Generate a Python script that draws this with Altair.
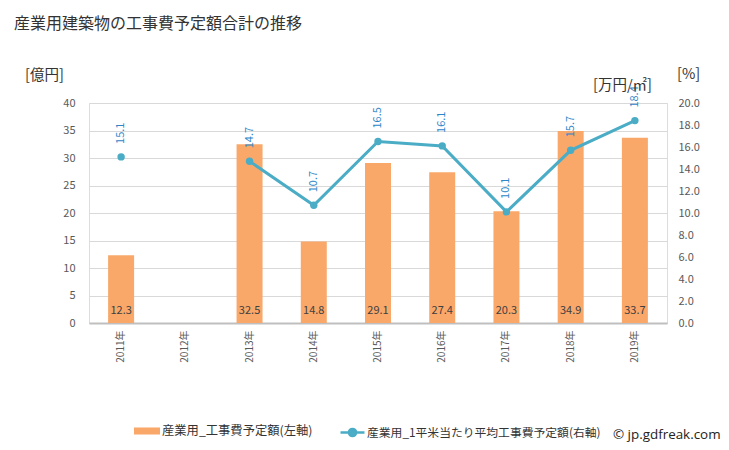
import altair as alt
import pandas as pd

# ---- data ----
years = ["2011年", "2012年", "2013年", "2014年", "2015年", "2016年", "2017年", "2018年", "2019年"]
bar_vals = [12.3, None, 32.5, 14.8, 29.1, 27.4, 20.3, 34.9, 33.7]
rate_vals = [15.1, None, 14.7, 10.7, 16.5, 16.1, 10.1, 15.7, 18.4]
left_ticks = [0, 5, 10, 15, 20, 25, 30, 35, 40]
right_ticks = [0, 2, 4, 6, 8, 10, 12, 14, 16, 18, 20]

bar_name = "産業用_工事費予定額(左軸)"
line_name = "産業用_1平米当たり平均工事費予定額(右軸)"
title_text = "産業用建築物の工事費予定額合計の推移"
left_unit = "[億円]"
right_unit = "[%]"
rate_unit = "[万円/㎡]"
credit = "© jp.gdfreak.com"

df = pd.DataFrame({"year": years, "bar": bar_vals, "rate": rate_vals,
                   "bname": bar_name, "lname": line_name})

FONT = "Noto Sans CJK JP"
ORANGE = "#f9a86a"
BLUE = "#4bacc6"
LABEL_BLUE = "#2e86c9"
GRAY = "#595959"

xaxis = alt.Axis(title=None, labelAngle=270, labelFontSize=10, labelColor=GRAY,
                 labelPadding=7, ticks=False, domainColor="#bfbfbf", domainWidth=2,
                 grid=False, labelFont=FONT)
xscale = alt.Scale(paddingInner=0, paddingOuter=0)
xenc = alt.X("year:N", sort=years, scale=xscale, axis=xaxis)

left_axis = alt.Axis(title=None, values=left_ticks, grid=True, gridColor="#d9d9d9",
                     domain=False, ticks=False, labelPadding=14, labelColor=GRAY,
                     labelFontSize=11, labelFont=FONT, labelOverlap=False)
left_scale = alt.Scale(domain=[0, 40])
right_axis = alt.Axis(orient="right", title=None, values=right_ticks, format=".1f",
                      grid=False, domain=False, ticks=False, labelPadding=11,
                      labelColor=GRAY, labelFontSize=11, labelFont=FONT, labelOverlap=False)
right_scale = alt.Scale(domain=[0, 20])

base = alt.Chart(df)

bars = base.mark_bar(size=26).encode(
    x=xenc,
    y=alt.Y("bar:Q", scale=left_scale, axis=left_axis),
    fill=alt.Fill("bname:N", scale=alt.Scale(range=[ORANGE]),
                  legend=alt.Legend(title=None, orient="none", legendX=45, legendY=315,
                                    symbolType="M-1,-0.27H1V0.27H-1Z", symbolSize=676,
                                    symbolStrokeWidth=0, labelFontSize=12.3, labelColor="#333333",
                                    labelFont=FONT, labelOffset=2, padding=0, labelLimit=400)),
)

bar_text = base.transform_filter("isValid(datum.bar)").transform_calculate(
    zero="0"
).mark_text(dy=-12, fontSize=11, color="#404040", font=FONT).encode(
    x=xenc,
    y=alt.Y("zero:Q", scale=left_scale, axis=left_axis),
    text=alt.Text("bar:Q", format=".1f"),
)

left = alt.layer(bars, bar_text)

rate_y = alt.Y("rate:Q", scale=right_scale, axis=right_axis)

line = base.mark_line(strokeWidth=3, invalid="break-paths-show-domains").encode(
    x=xenc,
    y=rate_y,
    stroke=alt.Stroke("lname:N", scale=alt.Scale(range=[BLUE]),
                      legend=alt.Legend(title=None, orient="none", legendX=250, legendY=316,
                                        symbolType="M-1,0H1M0.3,0A0.3,0.3 0 1 1 -0.3,0A0.3,0.3 0 1 1 0.3,0",
                                        symbolSize=576, symbolStrokeWidth=2.5,
                                        symbolFillColor=BLUE, labelFontSize=11.8,
                                        labelColor="#333333", labelFont=FONT, labelOffset=1,
                                        padding=0, labelLimit=400)),
)

points = base.transform_filter("isValid(datum.rate)").mark_circle(
    size=55, color=BLUE, opacity=1
).encode(x=xenc, y=rate_y)

line_text = base.transform_filter("isValid(datum.rate)").mark_text(
    angle=270, align="left", baseline="middle", dx=13, fontSize=11, color=LABEL_BLUE, font=FONT
).encode(x=xenc, y=rate_y, text=alt.Text("rate:Q", format=".1f"))

right = alt.layer(line, points, line_text)


def note(txt, px, py, size, color="#333333", align="left", font=FONT):
    return alt.Chart(pd.DataFrame({"t": [txt]})).mark_text(
        align=align, baseline="middle", fontSize=size, color=color, font=font
    ).encode(x=alt.value(px), y=alt.value(py), text="t:N")


notes = [
    note(title_text, -75, -79, 16),
    note(left_unit, -64, -27, 14.5),
    note(right_unit, 588, -28, 14.5),
    note(rate_unit, 504, -17, 14.5),
    note(credit, 524, 332, 13.4, color="#222222", font="Open Sans"),
]

chart = alt.layer(left, right, *notes).resolve_scale(
    y="independent", fill="independent", stroke="independent"
).properties(
    width=578, height=220,
    autosize=alt.AutoSizeParams(type="none"),
    padding={"left": 81, "top": 95, "right": 54, "bottom": 119},
).configure_view(stroke=None).configure(font=FONT)

chart.save("out.html", embed_options={"renderer": "svg", "actions": False})
